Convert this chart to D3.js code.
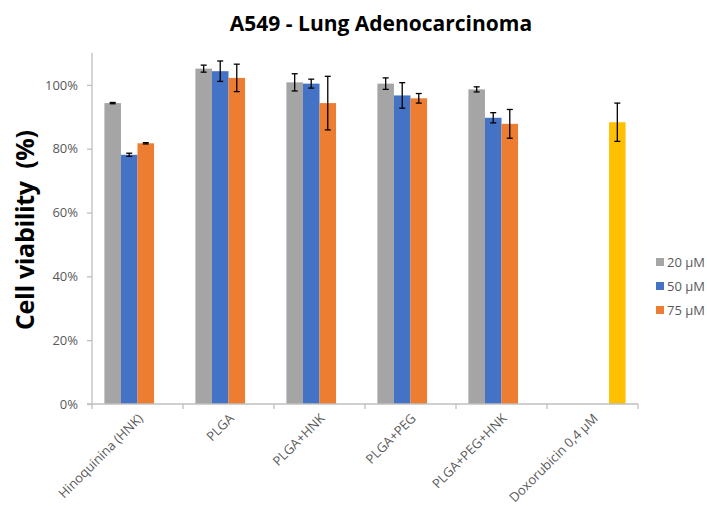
<!DOCTYPE html>
<html>
<head>
<meta charset="utf-8">
<script src="https://cdn.jsdelivr.net/npm/d3@7/dist/d3.min.js"></script>
<style>
  html, body { margin: 0; padding: 0; background: #fff; }
  svg { display: block; }
</style>
</head>
<body>
<svg id="chart" width="707" height="517"></svg>
<script>
// Treatments along the x axis
const categories = ["Hinoquinina (HNK)", "PLGA", "PLGA+HNK", "PLGA+PEG", "PLGA+PEG+HNK", "Doxorubicin 0,4 µM"];

// Series names (the last one is the positive control, not listed in the legend)
const seriesNames = ["20 µM", "50 µM", "75 µM", "Doxorubicin"];
const legendSeries = ["20 µM", "50 µM", "75 µM"];

// Mean viability (fraction of control) per series, one entry per category
const v20  = [0.943, 1.051, 1.008, 1.004, 0.986, null];
const v50  = [0.781, 1.043, 1.004, 0.967, 0.897, null];
const v75  = [0.817, 1.022, 0.943, 0.958, 0.878, null];
const vDox = [null, null, null, null, null, 0.883];

// Standard deviations matching the series above
const e20  = [0.002, 0.011, 0.027, 0.018, 0.008, null];
const e50  = [0.005, 0.032, 0.014, 0.040, 0.016, null];
const e75  = [0.002, 0.043, 0.084, 0.015, 0.045, null];
const eDox = [null, null, null, null, null, 0.060];

const yTicks = [0, 0.2, 0.4, 0.6, 0.8, 1.0];
const colors = ["#A5A5A5", "#4472C4", "#ED7D31", "#FFC000"];

const values = [v20, v50, v75, vDox];
const errors = [e20, e50, e75, eDox];

const svg = d3.select("#chart");
const x0 = 92, x1 = 638, yTop = 53, yBot = 404;
const font = "Open Sans, sans-serif";

const x = d3.scaleBand().domain(categories).range([x0, x1]).paddingInner(0).paddingOuter(0);
const bw = x.bandwidth();
// gap between groups is 150% of one bar width
const gap = bw * 1.5 / 5.5;
const xs = d3.scaleBand().domain(seriesNames).range([gap / 2, bw - gap / 2]).padding(0);
const y = d3.scaleLinear().domain([0, 1.1]).range([yBot, yTop]);

// Title
svg.append("text")
  .attr("x", 381).attr("y", 31)
  .attr("text-anchor", "middle")
  .attr("font-family", font)
  .attr("font-weight", "bold")
  .attr("font-size", 21)
  .attr("fill", "#000")
  .text("A549 - Lung Adenocarcinoma");

// Y axis
const yAxis = d3.axisLeft(y).tickValues(yTicks).tickSize(5).tickFormat(d3.format(".0%"));
const gy = svg.append("g").attr("transform", `translate(${x0},0)`).call(yAxis);
gy.select(".domain").attr("stroke", "#BFBFBF").attr("stroke-width", 1.3)
  .attr("d", `M0,${yTop}V${yBot}`);
gy.selectAll(".tick line").attr("stroke", "#BFBFBF").attr("stroke-width", 1.3);
gy.selectAll(".tick text")
  .attr("x", -14)
  .attr("font-family", font)
  .attr("font-size", 13)
  .attr("fill", "#595959");

// Y axis title
svg.append("text")
  .attr("transform", `translate(34,230) rotate(-90)`)
  .attr("text-anchor", "middle")
  .attr("font-family", font)
  .attr("font-weight", "bold")
  .attr("font-size", 25)
  .attr("fill", "#000")
  .attr("textLength", 200)
  .attr("lengthAdjust", "spacing")
  .text("Cell viability\u00A0\u00A0(%)");

// Bars
const flat = [];
values.forEach((arr, si) => arr.forEach((v, ci) => {
  if (v != null) flat.push({ s: seriesNames[si], si, c: categories[ci], v, e: errors[si][ci] });
}));

svg.append("g").selectAll("rect").data(flat).join("rect")
  .attr("x", d => x(d.c) + xs(d.s))
  .attr("width", xs.bandwidth())
  .attr("y", d => y(d.v))
  .attr("height", d => y(0) - y(d.v))
  .attr("fill", d => colors[d.si]);

// X axis with category separators
const gx = svg.append("g").attr("transform", `translate(0,${yBot})`);
gx.append("line").attr("x1", x0 - 5).attr("x2", x1).attr("y1", 0).attr("y2", 0)
  .attr("stroke", "#BFBFBF").attr("stroke-width", 1.3);
const bounds = categories.map(c => x(c)).concat([x1]);
gx.selectAll("line.sep").data(bounds).join("line").attr("class", "sep")
  .attr("x1", d => d).attr("x2", d => d).attr("y1", 0).attr("y2", 5)
  .attr("stroke", "#BFBFBF").attr("stroke-width", 1.3);
gx.selectAll("text").data(categories).join("text")
  .attr("transform", d => `translate(${x(d) + bw / 2 + 3},${12}) rotate(-45)`)
  .attr("text-anchor", "end")
  .attr("dy", "0.35em")
  .attr("font-family", font)
  .attr("font-size", 13)
  .attr("fill", "#595959")
  .text(d => d);

// Error bars
const eg = svg.append("g").attr("stroke", "#000").attr("stroke-width", 1.3);
const cx = d => x(d.c) + xs(d.s) + xs.bandwidth() / 2;
eg.selectAll("line.v").data(flat).join("line").attr("class", "v")
  .attr("x1", cx).attr("x2", cx)
  .attr("y1", d => y(d.v + d.e)).attr("y2", d => y(d.v - d.e));
eg.selectAll("line.t").data(flat).join("line").attr("class", "t")
  .attr("x1", d => cx(d) - 3).attr("x2", d => cx(d) + 3)
  .attr("y1", d => y(d.v + d.e)).attr("y2", d => y(d.v + d.e));
eg.selectAll("line.b").data(flat).join("line").attr("class", "b")
  .attr("x1", d => cx(d) - 3).attr("x2", d => cx(d) + 3)
  .attr("y1", d => y(d.v - d.e)).attr("y2", d => y(d.v - d.e));

// Legend
const lg = svg.append("g").attr("transform", "translate(656,0)");
const rows = lg.selectAll("g").data(legendSeries).join("g")
  .attr("transform", (d, i) => `translate(0,${262 + i * 24})`);
rows.append("rect").attr("x", 0).attr("y", -4).attr("width", 8).attr("height", 8)
  .attr("fill", (d, i) => colors[i]);
rows.append("text").attr("x", 11).attr("dy", "0.35em")
  .attr("font-family", font)
  .attr("font-size", 13)
  .attr("fill", "#595959")
  .text(d => d);
</script>
</body>
</html>
